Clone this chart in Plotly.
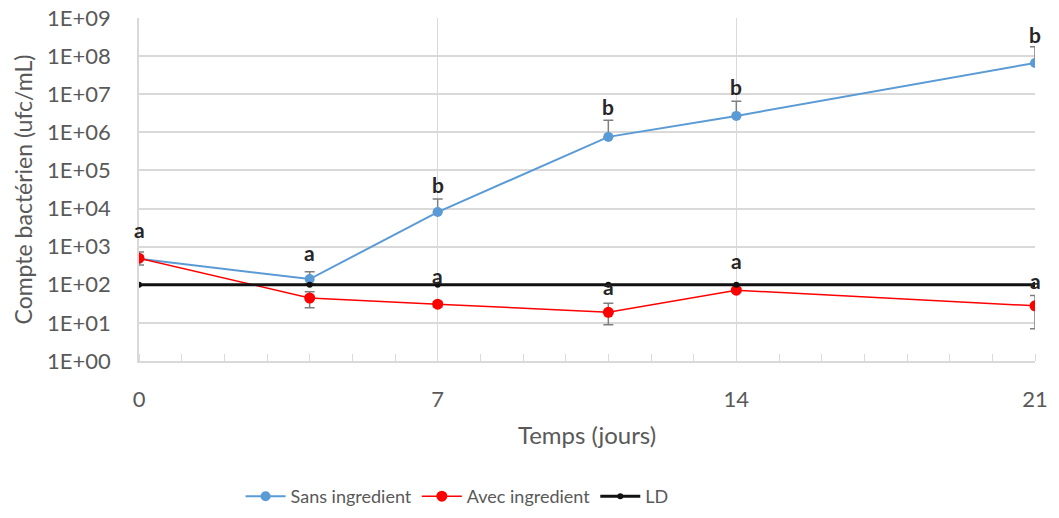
import math
import plotly.graph_objects as go

days = [0, 4, 7, 11, 14, 21]
sans = [480, 141, 8100, 760000, 2700000, 66000000]
sans_err_plus = [250, 80, 9700, 1300000, 3800000, 110000000]
sans_err_minus = [150, 35, 0, 0, 0, 0]
avec = [500, 45, 31, 19, 72, 28]
avec_err_plus = [60, 21, 5, 14, 8, 24]
avec_err_minus = [60, 20, 5, 10, 8, 21]
ld = [100, 100, 100, 100, 100, 100]
letters_sans = ["a", "a", "b", "b", "b", "b"]
letters_avec = ["", "", "a", "a", "a", "a"]

ytick_vals = [10 ** i for i in range(10)]
ytick_text = ["1E+%02d" % i for i in range(10)]
xtick_vals = [0, 7, 14, 21]

font_family = "Lato, 'Open Sans', sans-serif"
txt_color = "#595959"
grid = "#D9D9D9"

fig = go.Figure()
fig.add_trace(go.Scatter(
    x=days, y=sans, name="Sans ingredient", mode="lines+markers",
    line=dict(color="#5B9BD5", width=2), marker=dict(size=10, color="#5B9BD5"),
    error_y=dict(type="data", symmetric=False, array=sans_err_plus, arrayminus=sans_err_minus,
                 color="#7F7F7F", thickness=1.5, width=5),
))
fig.add_trace(go.Scatter(
    x=days, y=avec, name="Avec ingredient", mode="lines+markers",
    line=dict(color="#FF0000", width=1.5), marker=dict(size=11, color="#FF0000"),
    error_y=dict(type="data", symmetric=False, array=avec_err_plus, arrayminus=avec_err_minus,
                 color="#7F7F7F", thickness=1.5, width=5),
))
fig.add_trace(go.Scatter(
    x=days, y=ld, name="LD", mode="lines+markers",
    line=dict(color="#111111", width=3), marker=dict(size=6, color="#111111"),
))

# significance letters
sans_shift = [29, 27, 28, 30, 29, 28]
for d, v, t, s in zip(days, sans, letters_sans, sans_shift):
    fig.add_annotation(x=d, y=math.log10(v), text="<b>%s</b>" % t, showarrow=False,
                       yshift=s, font=dict(size=21, color="#262626", family=font_family))
avec_shift = [0, 0, 29, 26, 30, 25]
for d, v, t, s in zip(days, avec, letters_avec, avec_shift):
    if t:
        fig.add_annotation(x=d, y=math.log10(v), text="<b>%s</b>" % t, showarrow=False,
                           yshift=s, font=dict(size=21, color="#262626", family=font_family))

fig.update_layout(
    width=1059, height=518,
    margin=dict(l=139, r=24, t=18, b=157, autoexpand=False),
    paper_bgcolor="white", plot_bgcolor="white",
    font=dict(family=font_family, size=17, color=txt_color),
    showlegend=True,
    legend=dict(orientation="h", x=0.355, xanchor="center", y=-0.395, yanchor="middle",
                font=dict(size=18, color=txt_color), itemwidth=40),
)
fig.update_xaxes(
    range=[0, 21], tickvals=xtick_vals, showgrid=True, gridcolor=grid, gridwidth=1,
    showline=True, linecolor=grid, linewidth=1.5, zeroline=False, automargin=False,
    ticks="", ticklabelstandoff=18, tickfont=dict(size=22, color=txt_color),
    minor=dict(dtick=1, ticks="inside", ticklen=7, tickcolor=grid, showgrid=False),
    title=dict(text="Temps (jours)", font=dict(size=24, color=txt_color), standoff=16),
)
fig.update_yaxes(
    type="log", range=[0, 9], tickvals=ytick_vals, ticktext=ytick_text,
    showgrid=True, gridcolor=grid, gridwidth=1.5,
    showline=True, linecolor=grid, linewidth=1.5, zeroline=False, automargin=False,
    ticks="", ticklabelstandoff=22, tickfont=dict(size=22, color=txt_color),
    title=dict(text="Compte bactérien (ufc/mL)", font=dict(size=23, color=txt_color), standoff=8),
)

fig.write_html("out.html")
